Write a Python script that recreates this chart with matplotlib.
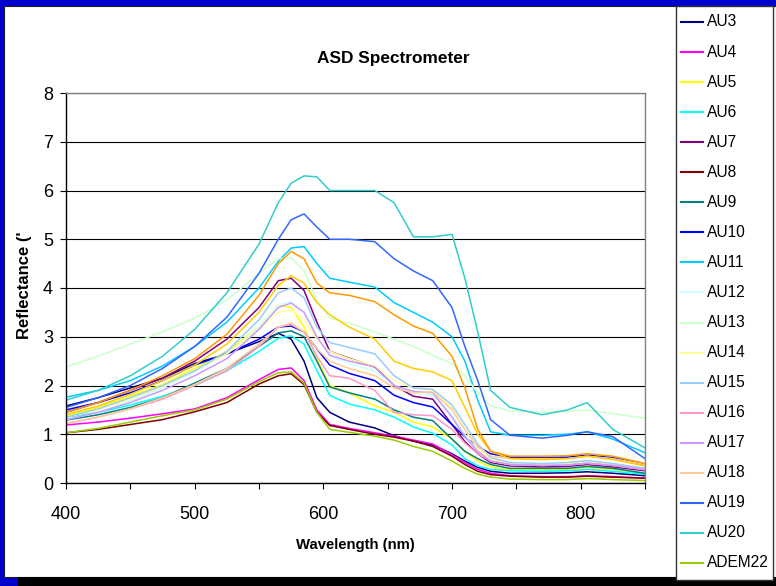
import matplotlib
matplotlib.use('Agg')
from matplotlib import pyplot as plt
from matplotlib.patches import Rectangle
from matplotlib.lines import Line2D

# wavelength grid (nm) the curves were read at
wl = [400, 425, 450, 475, 500, 525, 550, 565, 575, 585, 595, 605, 620, 640,
      655, 670, 685, 700, 710, 720, 730, 745, 770, 790, 805, 825, 850]

au3 = [1.58, 1.75, 1.95, 2.15, 2.45, 2.65, 2.9, 3.07, 2.95, 2.5, 1.75, 1.45, 1.25, 1.13,
       0.97, 0.86, 0.78, 0.6, 0.45, 0.32, 0.24, 0.2, 0.2, 0.21, 0.23, 0.2, 0.15]
au4 = [1.19, 1.25, 1.33, 1.42, 1.52, 1.75, 2.12, 2.33, 2.36, 2.1, 1.5, 1.2, 1.12, 1.03,
       0.96, 0.88, 0.8, 0.58, 0.42, 0.28, 0.2, 0.15, 0.13, 0.13, 0.15, 0.13, 0.1]
au5 = [1.37, 1.55, 1.78, 2.02, 2.35, 2.7, 3.2, 3.65, 3.6, 3.2, 2.55, 2.0, 1.85, 1.58,
       1.45, 1.25, 1.15, 0.9, 0.65, 0.45, 0.33, 0.28, 0.27, 0.28, 0.32, 0.28, 0.2]
au6 = [1.35, 1.45, 1.6, 1.78, 2.0, 2.3, 2.7, 2.97, 3.02, 2.85, 2.3, 1.8, 1.62, 1.5,
       1.35, 1.15, 1.02, 0.78, 0.5, 0.35, 0.28, 0.25, 0.24, 0.25, 0.28, 0.24, 0.18]
au7 = [1.45, 1.65, 1.9, 2.15, 2.5, 2.95, 3.6, 4.15, 4.2, 3.95, 3.3, 2.7, 2.56, 2.38,
       2.0, 1.78, 1.72, 1.2, 0.85, 0.6, 0.42, 0.35, 0.33, 0.34, 0.38, 0.33, 0.25]
au8 = [1.03, 1.1, 1.2, 1.3, 1.46, 1.65, 2.03, 2.2, 2.24, 2.02, 1.45, 1.18, 1.1, 1.0,
       0.94, 0.86, 0.75, 0.55, 0.38, 0.24, 0.17, 0.14, 0.12, 0.12, 0.14, 0.12, 0.1]
au9 = [1.29, 1.4, 1.55, 1.75, 2.05, 2.35, 2.8, 3.08, 3.12, 3.0, 2.5, 1.97, 1.85, 1.72,
       1.5, 1.35, 1.28, 0.9, 0.65, 0.5, 0.38, 0.3, 0.3, 0.3, 0.34, 0.3, 0.2]
au10 = [1.5, 1.65, 1.85, 2.1, 2.42, 2.65, 2.95, 3.2, 3.22, 3.1, 2.75, 2.42, 2.25, 2.1,
        1.8, 1.65, 1.56, 1.2, 0.95, 0.75, 0.6, 0.53, 0.52, 0.53, 0.57, 0.52, 0.38]
au11 = [1.76, 1.9, 2.1, 2.4, 2.8, 3.3, 4.0, 4.55, 4.82, 4.85, 4.5, 4.2, 4.12, 4.02,
        3.7, 3.5, 3.3, 3.0, 2.5, 1.7, 1.05, 0.98, 0.98, 1.0, 1.05, 0.9, 0.62]
au12 = [1.3, 1.45, 1.68, 1.95, 2.28, 2.65, 3.2, 3.65, 3.72, 3.5, 3.0, 2.6, 2.45, 2.3,
        2.0, 1.85, 1.8, 1.4, 1.0, 0.65, 0.45, 0.38, 0.37, 0.38, 0.42, 0.37, 0.28]
au13 = [2.38, 2.6, 2.85, 3.1, 3.38, 3.75, 4.3, 4.6, 4.62, 4.35, 3.75, 3.38, 3.28, 3.1,
        2.95, 2.8, 2.62, 2.45, 2.2, 1.85, 1.58, 1.48, 1.45, 1.47, 1.5, 1.42, 1.33]
au14 = [1.35, 1.5, 1.72, 1.98, 2.3, 2.65, 3.15, 3.5, 3.55, 3.35, 2.95, 2.7, 2.55, 2.4,
        2.1, 1.95, 1.9, 1.55, 1.1, 0.7, 0.48, 0.4, 0.38, 0.4, 0.44, 0.38, 0.3]
au15 = [1.35, 1.52, 1.75, 2.0, 2.3, 2.7, 3.35, 3.9, 4.0, 3.8, 3.2, 2.88, 2.78, 2.65,
        2.2, 1.95, 1.92, 1.6, 1.2, 0.8, 0.52, 0.42, 0.4, 0.42, 0.46, 0.4, 0.3]
au16 = [1.22, 1.35, 1.52, 1.72, 2.0, 2.3, 2.8, 3.2, 3.25, 3.1, 2.6, 2.2, 2.15, 1.9,
        1.45, 1.4, 1.38, 1.1, 0.82, 0.6, 0.45, 0.38, 0.36, 0.37, 0.4, 0.36, 0.27]
au17 = [1.3, 1.45, 1.65, 1.9, 2.2, 2.55, 3.15, 3.6, 3.69, 3.5, 3.0, 2.62, 2.5, 2.38,
        2.0, 1.88, 1.85, 1.35, 0.95, 0.65, 0.45, 0.38, 0.36, 0.37, 0.41, 0.36, 0.28]
au18 = [1.22, 1.35, 1.52, 1.75, 2.02, 2.35, 2.85, 3.2, 3.28, 3.1, 2.75, 2.5, 2.35, 2.2,
        1.95, 1.85, 1.87, 1.5, 1.1, 0.75, 0.55, 0.5, 0.5, 0.5, 0.55, 0.5, 0.38]
au19 = [1.55, 1.75, 2.0, 2.35, 2.8, 3.4, 4.3, 5.0, 5.4, 5.52, 5.25, 5.0, 5.0, 4.95,
        4.6, 4.35, 4.15, 3.6, 2.8, 2.1, 1.3, 0.98, 0.92, 0.98, 1.05, 0.95, 0.5]
au20 = [1.7, 1.9, 2.2, 2.6, 3.15, 3.9, 4.9, 5.75, 6.15, 6.3, 6.28, 6.0, 6.0, 6.0,
        5.75, 5.05, 5.05, 5.1, 4.2, 3.1, 1.9, 1.55, 1.4, 1.5, 1.65, 1.1, 0.72]
adem22 = [1.03, 1.12, 1.25, 1.38, 1.5, 1.72, 2.08, 2.26, 2.28, 2.05, 1.45, 1.1, 1.04, 0.96,
          0.88, 0.75, 0.65, 0.45, 0.3, 0.18, 0.12, 0.08, 0.07, 0.07, 0.09, 0.07, 0.05]
# two more series whose legend entries are cut off in the original
extra1 = [1.4, 1.58, 1.82, 2.1, 2.42, 2.85, 3.5, 4.05, 4.25, 4.1, 3.7, 3.45, 3.2, 2.95,
          2.5, 2.35, 2.28, 2.1, 1.55, 1.0, 0.65, 0.5, 0.48, 0.5, 0.55, 0.48, 0.35]
extra2 = [1.45, 1.65, 1.9, 2.2, 2.55, 3.05, 3.85, 4.5, 4.75, 4.6, 4.1, 3.9, 3.85, 3.72,
          3.45, 3.22, 3.07, 2.6, 1.95, 1.1, 0.65, 0.55, 0.55, 0.56, 0.6, 0.55, 0.4]

names = ['AU3', 'AU4', 'AU5', 'AU6', 'AU7', 'AU8', 'AU9', 'AU10', 'AU11', 'AU12',
         'AU13', 'AU14', 'AU15', 'AU16', 'AU17', 'AU18', 'AU19', 'AU20', 'ADEM22',
         '_s20', '_s21']
series = [au3, au4, au5, au6, au7, au8, au9, au10, au11, au12, au13, au14, au15,
          au16, au17, au18, au19, au20, adem22, extra1, extra2]
colors = ['#000080', '#FF00FF', '#FFFF00', '#00FFFF', '#800080', '#800000', '#008080',
          '#0000FF', '#00CCFF', '#CCFFFF', '#CCFFCC', '#FFFF99', '#99CCFF', '#FF99CC',
          '#CC99FF', '#FFCC99', '#3366FF', '#33CCCC', '#99CC00', '#FFCC00', '#FF9900']

plt.rcParams['font.family'] = ['Liberation Sans', 'DejaVu Sans']

W, H = 776, 586
def fx(x):
    return x / W
def fy(y):
    return 1 - y / H

fig = plt.figure(figsize=(W / 100, H / 100), dpi=100, facecolor='#0000CC')
fig.add_artist(Rectangle((fx(4), fy(577)), 772 / W, 571 / H, transform=fig.transFigure,
                         facecolor='white', edgecolor='#222222', lw=0.8, zorder=-10))
fig.add_artist(Rectangle((fx(18), 0), 1 - fx(18), 9 / H, transform=fig.transFigure,
                         facecolor='black', edgecolor='none', zorder=-9))

ax = fig.add_axes([fx(66), fy(483), 579 / W, 390 / H])
ax.set_facecolor('none')
for s, c, n in zip(series, colors, names):
    ax.plot(wl, s, color=c, lw=1.1, label=n)

ax.set_xlim(400, 850)
ax.set_ylim(0, 8)
xt = list(range(400, 851, 50))
ax.set_xticks(xt)
ax.set_xticklabels([str(v) if v % 100 == 0 and v < 850 else '' for v in xt])
ax.set_yticks(range(0, 9))
ax.tick_params(direction='out', length=4.3, width=0.8, colors='black', labelsize=13)
ax.tick_params(axis='x', pad=12)
ax.tick_params(axis='y', pad=5)
ax.yaxis.grid(True, color='black', lw=0.8)
ax.set_axisbelow(True)
for side in ['top', 'right']:
    ax.spines[side].set_color('#808080')
for side in ['left', 'bottom']:
    ax.spines[side].set_color('black')
for sp in ax.spines.values():
    sp.set_linewidth(1.0)

fig.text(fx(393), fy(58), 'ASD Spectrometer', ha='center', va='center',
         fontsize=12.4, fontweight='bold')
fig.text(fx(355), fy(545), 'Wavelength (nm)', ha='center', va='center',
         fontsize=10.7, fontweight='bold')
fig.text(fx(25), fy(285), "Reflectance ('", ha='center', va='center', rotation=90,
         fontsize=12, fontweight='bold')

# legend box (the original is cut off after ADEM22)
fig.add_artist(Rectangle((fx(676), fy(580)), 97 / W, 574 / H, transform=fig.transFigure,
                         facecolor='white', edgecolor='#333333', lw=1.0, zorder=-5))
for i, (n, c) in enumerate(zip(names, colors)):
    if n.startswith('_'):
        continue
    y = 22 + 30.05 * i
    fig.add_artist(Line2D([fx(681), fx(703)], [fy(y), fy(y)], transform=fig.transFigure,
                          color=c, lw=1.5))
    fig.text(fx(707), fy(y), n, ha='left', va='center', fontsize=11.2)

fig.savefig('out.png', dpi=100, facecolor=fig.get_facecolor())
